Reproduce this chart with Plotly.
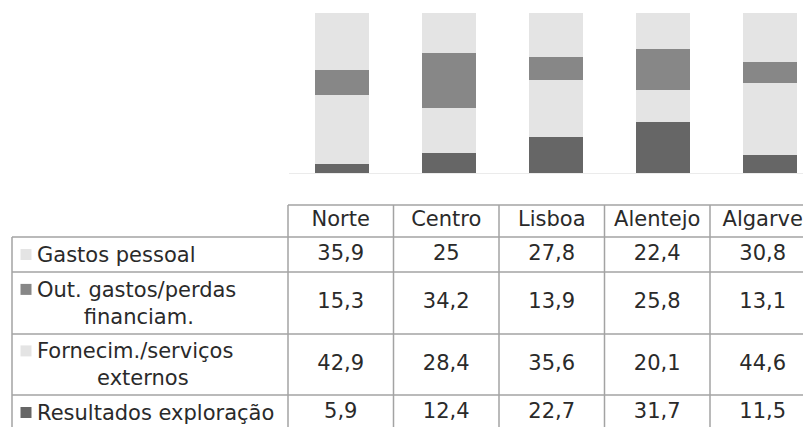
import plotly.graph_objects as go

# data
regions = ["Norte", "Centro", "Lisboa", "Alentejo", "Algarve"]
gastos_pessoal = [35.9, 25, 27.8, 22.4, 30.8]
out_gastos = [15.3, 34.2, 13.9, 25.8, 13.1]
fornecim = [42.9, 28.4, 35.6, 20.1, 44.6]
resultados = [5.9, 12.4, 22.7, 31.7, 11.5]

# table rows, top to bottom
row_labels = [
    "Gastos pessoal",
    "Out. gastos/perdas<br>" + "\u00a0" * 7 + "financiam.",
    "Fornecim./serviços<br>" + "\u00a0" * 9 + "externos",
    "Resultados exploração",
]
row_values = [gastos_pessoal, out_gastos, fornecim, resultados]
row_colors = ["#e4e4e4", "#878787", "#e4e4e4", "#666666"]
row_lines = [1, 2, 2, 1]

FONT = "Verdana, DejaVu Sans, sans-serif"
TXT = "#2a2a2a"
GRID = "#a3a3a3"
W, H = 811, 427
OFF = 8  # page body margin; geometry below is in page pixels


def px_x(p):
    return (p - OFF) / W


def px_y(p):
    return (H - (p - OFF)) / H


fig = go.Figure()

# stacked bars, bottom series first
stack = [
    ("Resultados exploração", resultados, "#666666"),
    ("Fornecim./serviços externos", fornecim, "#e4e4e4"),
    ("Out. gastos/perdas financiam.", out_gastos, "#878787"),
    ("Gastos pessoal", gastos_pessoal, "#e4e4e4"),
]
for name, vals, col in stack:
    fig.add_trace(go.Bar(
        x=regions, y=vals, name=name, marker_color=col,
        marker_line_width=0, width=0.51, showlegend=False,
        hoverinfo="skip",
    ))

# table geometry (page pixels)
tbl_left = 12
col0_right = 288
col_w = 105.5
row_edges = [205, 237, 272, 334, 395, 440]
col_edges = [col0_right + i * col_w for i in range(len(regions) + 1)]
col_mid = [(col_edges[i] + col_edges[i + 1]) / 2 for i in range(len(regions))]
row_mid = [(row_edges[i] + row_edges[i + 1]) / 2 for i in range(len(row_edges) - 1)]
row_mid[-1] = 412.5

line = dict(color=GRID, width=1.5)
shapes = []
# horizontal lines
shapes.append(dict(type="line", xref="x2", yref="y2", x0=col0_right, x1=W + 20,
                   y0=row_edges[0], y1=row_edges[0], line=line))
for y in row_edges[1:-1]:
    shapes.append(dict(type="line", xref="x2", yref="y2", x0=tbl_left, x1=W + 20,
                       y0=y, y1=y, line=line))
# vertical lines
shapes.append(dict(type="line", xref="x2", yref="y2", x0=tbl_left, x1=tbl_left,
                   y0=row_edges[1], y1=H + 20, line=line))
for x in col_edges:
    shapes.append(dict(type="line", xref="x2", yref="y2", x0=x, x1=x,
                       y0=row_edges[0], y1=H + 20, line=line))

# header text
fig.add_trace(go.Scatter(
    x=col_mid, y=[row_mid[0]] * len(regions), text=regions, mode="text",
    textposition="middle center", textfont=dict(family=FONT, size=21, color=TXT),
    xaxis="x2", yaxis="y2", showlegend=False, hoverinfo="skip",
))

# values
xs, ys, ts = [], [], []
for r, vals in enumerate(row_values):
    for c, v in enumerate(vals):
        xs.append(col_mid[c])
        ys.append(row_mid[r + 1])
        ts.append(f"{v:g}".replace(".", ","))
fig.add_trace(go.Scatter(
    x=xs, y=ys, text=ts, mode="text", textposition="middle center",
    textfont=dict(family=FONT, size=21, color=TXT),
    xaxis="x2", yaxis="y2", showlegend=False, hoverinfo="skip",
))

# legend keys
key_y = [row_mid[r + 1] - (13.6 if n == 2 else 0) for r, n in enumerate(row_lines)]
fig.add_trace(go.Scatter(
    x=[26] * len(row_labels), y=key_y, mode="markers",
    marker=dict(symbol="square", size=11, color=row_colors, line_width=0),
    xaxis="x2", yaxis="y2", showlegend=False, hoverinfo="skip",
))

annotations = []
for r, lab in enumerate(row_labels):
    annotations.append(dict(
        x=35, y=row_mid[r + 1], xref="x2", yref="y2", text=lab, showarrow=False,
        xanchor="left", yanchor="middle", align="left",
        font=dict(family=FONT, size=21, color=TXT),
    ))

fig.update_layout(
    width=W, height=H,
    margin=dict(l=0, r=0, t=0, b=0),
    paper_bgcolor="white", plot_bgcolor="rgba(0,0,0,0)",
    barmode="stack",
    xaxis=dict(domain=[px_x(288.5), 1], range=[-0.5, -0.5 + (W + OFF - 288.5) / 107],
               showticklabels=False, ticks="", showgrid=False, zeroline=False,
               showline=True, linecolor="#ebebeb", linewidth=1),
    yaxis=dict(domain=[px_y(173), px_y(13)], range=[0, 100],
               showticklabels=False, ticks="", showgrid=False, zeroline=False),
    xaxis2=dict(domain=[0, 1], range=[OFF, OFF + W], visible=False),
    yaxis2=dict(domain=[0, 1], range=[OFF + H, OFF], visible=False),
    shapes=shapes,
    annotations=annotations,
)

fig.write_html("out.html")
